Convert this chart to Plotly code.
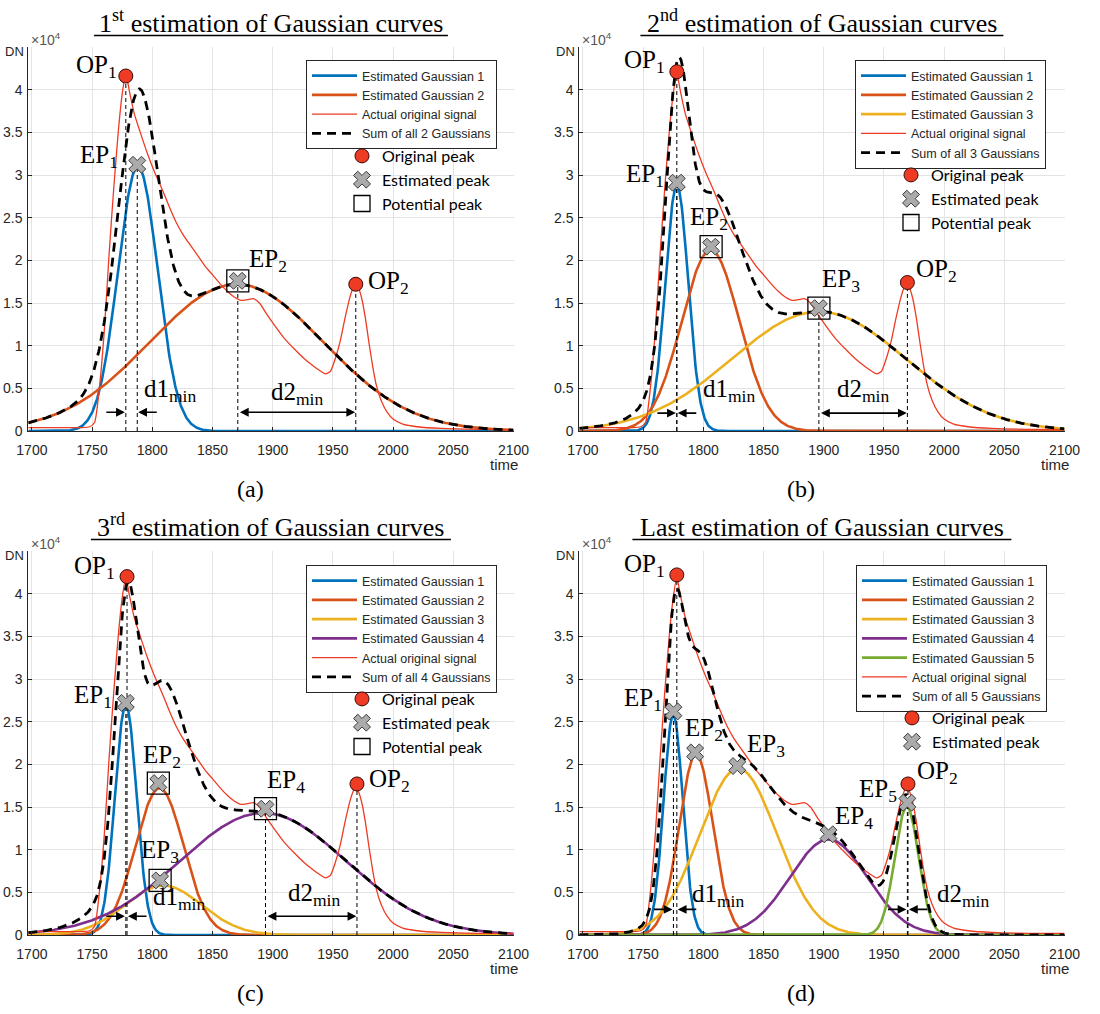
import numpy as np
import plotly.graph_objects as go

# ---------------- data (DN in units of 1e4, time in samples) ----------------
signal_time = [1697, 1720, 1740, 1748, 1752, 1756, 1760, 1764, 1768, 1772, 1775, 1778,
               1781, 1785, 1790, 1796, 1802, 1808, 1814, 1820, 1826, 1832, 1838, 1844,
               1850, 1856, 1862, 1868, 1874, 1879, 1884, 1889, 1895, 1902, 1910, 1918,
               1926, 1934, 1940, 1944, 1948, 1952, 1956, 1960, 1964, 1967, 1969, 1971,
               1974, 1977, 1980, 1983, 1986, 1990, 1995, 2000, 2008, 2020, 2040, 2070, 2100]
signal_dn = [0.04, 0.04, 0.04, 0.05, 0.10, 0.50, 1.15, 2.05, 2.85, 3.55, 3.95, 4.19,
             3.98, 3.72, 3.50, 3.25, 3.03, 2.84, 2.63, 2.44, 2.29, 2.17, 2.05, 1.93,
             1.83, 1.73, 1.64, 1.57, 1.53, 1.54, 1.55, 1.50, 1.37, 1.23, 1.08, 0.96,
             0.85, 0.76, 0.70, 0.67, 0.70, 0.85, 1.05, 1.32, 1.56, 1.69, 1.74, 1.69,
             1.55, 1.32, 1.03, 0.76, 0.54, 0.36, 0.22, 0.14, 0.08, 0.05, 0.03, 0.02, 0.02]

# Estimated Gaussian parameters per panel
a_amp = [3.10, 1.72]
a_mu = [1788, 1870]
a_sigma = [16.5, 72]
b_amp = [2.88, 2.12, 1.40]
b_mu = [1778, 1806, 1896]
b_sigma = [9.5, 24, 72]
c_amp = [2.70, 1.72, 0.58, 1.43]
c_mu = [1778, 1806, 1809, 1892]
c_sigma = [9.0, 20, 32, 69]
d_amp = [2.58, 2.12, 1.95, 1.12, 1.50]
d_mu = [1775, 1794, 1829, 1904, 1969]
d_sigma = [8, 14, 32, 32, 10]

# Original peaks (OP) and estimated peaks (EP)
a_op_x, a_op_y = [1778, 1969], [4.16, 1.72]
b_op_x, b_op_y = [1778, 1969.5], [4.21, 1.74]
c_op_x, c_op_y = [1779, 1970], [4.20, 1.77]
d_op_x, d_op_y = [1778, 1970], [4.22, 1.77]
a_ep_x, a_ep_y = [1787.5, 1871], [3.12, 1.76]
b_ep_x, b_ep_y = [1778, 1806.5, 1896], [2.91, 2.16, 1.44]
c_ep_x, c_ep_y = [1778, 1805, 1806.5, 1894], [2.72, 1.78, 0.64, 1.48]
d_ep_x, d_ep_y = [1775.2, 1793.2, 1828.2, 1904, 1969.5], [2.62, 2.14, 1.98, 1.18, 1.55]
# indices of EPs marked as potential peaks
a_pot = [1]
b_pot = [1, 2]
c_pot = [1, 2, 3]
d_pot = []
# EP index used for d2 distance
a_d2_ep, b_d2_ep, c_d2_ep, d_d2_ep = 1, 2, 3, 4
# distance-arrow heights
arrow_levels = [0.22, 0.21, 0.22, 0.30]

titles = ["1<sup>st</sup> estimation of Gaussian curves",
          "2<sup>nd</sup> estimation of Gaussian curves",
          "3<sup>rd</sup> estimation of Gaussian curves",
          "Last estimation of Gaussian curves"]
captions = ["(a)", "(b)", "(c)", "(d)"]
x_ticks = [1700, 1750, 1800, 1850, 1900, 1950, 2000, 2050, 2100]
y_ticks = [0, 0.5, 1, 1.5, 2, 2.5, 3, 3.5, 4]
y_ticklabels = ["0", "0.5", "1", "1.5", "2", "2.5", "3", "3.5", "4"]

# ---------------- styling / layout ----------------
W, H = 1100, 1014
COLORS = ["#0072BD", "#D95319", "#EDB120", "#7E2F8E", "#77AC30"]
RED = "#EE3B24"
SERIF = "Liberation Serif, Times New Roman, serif"
SANS = "Liberation Sans, Arial, sans-serif"
KEYFONT = "Lato, Carlito, sans-serif"
AX = "#262626"

def px(x):
    return x / W

def py(y):
    return 1 - y / H

panels = [
    dict(amp=a_amp, mu=a_mu, sig=a_sigma, opx=a_op_x, opy=a_op_y, epx=a_ep_x, epy=a_ep_y, pot=a_pot, d2=a_d2_ep),
    dict(amp=b_amp, mu=b_mu, sig=b_sigma, opx=b_op_x, opy=b_op_y, epx=b_ep_x, epy=b_ep_y, pot=b_pot, d2=b_d2_ep),
    dict(amp=c_amp, mu=c_mu, sig=c_sigma, opx=c_op_x, opy=c_op_y, epx=c_ep_x, epy=c_ep_y, pot=c_pot, d2=c_d2_ep),
    dict(amp=d_amp, mu=d_mu, sig=d_sigma, opx=d_op_x, opy=d_op_y, epx=d_ep_x, epy=d_ep_y, pot=d_pot, d2=d_d2_ep),
]

# pixel geometry of each panel
offs = [(0, 0), (551, 0), (0, 504), (551, 504)]
PL, PR, PT, PB = 28.3, 513.5, 47, 431

# label placement: (text, kind, index, xanchor, xshift, yshift)
point_labels = [
    [("OP<sub>1</sub>", "op", 0, "right", -7, 10), ("EP<sub>1</sub>", "ep", 0, "right", -17, 8),
     ("EP<sub>2</sub>", "ep", 1, "left", 9, 20), ("OP<sub>2</sub>", "op", 1, "left", 10, 2)],
    [("OP<sub>1</sub>", "op", 0, "right", -10, 10), ("EP<sub>1</sub>", "ep", 0, "right", -11, 7),
     ("EP<sub>2</sub>", "ep", 1, "center", -2, 28), ("EP<sub>3</sub>", "ep", 2, "left", 1, 28),
     ("OP<sub>2</sub>", "op", 1, "left", 7, 12)],
    [("OP<sub>1</sub>", "op", 0, "right", -10, 9), ("EP<sub>1</sub>", "ep", 0, "right", -12, 6),
     ("EP<sub>2</sub>", "ep", 1, "center", 4, 27), ("EP<sub>3</sub>", "ep", 2, "center", 0, 29),
     ("EP<sub>4</sub>", "ep", 3, "left", 0, 27), ("OP<sub>2</sub>", "op", 1, "left", 10, 3)],
    [("OP<sub>1</sub>", "op", 0, "right", -10, 9), ("EP<sub>1</sub>", "ep", 0, "right", -9, 12),
     ("EP<sub>2</sub>", "ep", 1, "center", 9, 23), ("EP<sub>3</sub>", "ep", 2, "left", 8, 21),
     ("EP<sub>4</sub>", "ep", 3, "left", 4, 17), ("EP<sub>5</sub>", "ep", 4, "right", -8, 12),
     ("OP<sub>2</sub>", "op", 1, "left", 7, 11)],
]
d1_label_pos = [(1815, 0.47), (1821, 0.47), (1822, 0.43), (1812, 0.46)]
d2_label_pos = [(1920, 0.44), (1933, 0.47), (1934, 0.47), (2016, 0.46)]
legend_pos = [(306, 60), (855, 60), (306, 565), (856, 565)]
title_widths = [354, 363, 360, 379]

t = np.arange(1697, 2100.01, 0.5)

def gauss(a, m, s):
    return a * np.exp(-((t - m) ** 2) / (2 * s ** 2))

fig = go.Figure()
annotations = []
shapes = []
layout = dict(width=W, height=H, margin=dict(l=0, r=0, t=0, b=0, pad=0, autoexpand=False),
              paper_bgcolor="white", plot_bgcolor="white", hovermode=False)

for i, p in enumerate(panels):
    n = i + 1
    sfx = "" if n == 1 else str(n)
    xa, ya = "x" + sfx, "y" + sfx
    ox, oy = offs[i]
    leg_main = "legend" if n == 1 else "legend%d" % (2 * n - 1)
    leg_key = "legend%d" % (2 * n)
    k = len(p["amp"])
    curves = [gauss(p["amp"][j], p["mu"][j], p["sig"][j]) for j in range(k)]
    for j in range(k):
        fig.add_trace(go.Scatter(x=t, y=curves[j], mode="lines", name="Estimated Gaussian %d" % (j + 1),
                                 line=dict(color=COLORS[j], width=2.6), xaxis=xa, yaxis=ya,
                                 legend=leg_main))
    fig.add_trace(go.Scatter(x=signal_time, y=signal_dn, mode="lines", name="Actual original signal",
                             line=dict(color=RED, width=1.3, shape="spline", smoothing=0.6),
                             xaxis=xa, yaxis=ya, legend=leg_main))
    fig.add_trace(go.Scatter(x=t, y=np.sum(curves, axis=0), mode="lines",
                             name="Sum of all %d Gaussians" % k,
                             line=dict(color="black", width=2.8, dash="9px,6px"),
                             xaxis=xa, yaxis=ya, legend=leg_main))
    # vertical dashed guide lines
    d2i = p["d2"]
    vx = [p["opx"][0], p["epx"][0], p["epx"][d2i], p["opx"][1]]
    vy = [p["opy"][0], p["epy"][0], p["epy"][d2i], p["opy"][1]]
    lx, ly = [], []
    for xx, yy in zip(vx, vy):
        lx += [xx, xx, None]
        ly += [0, yy, None]
    fig.add_trace(go.Scatter(x=lx, y=ly, mode="lines", showlegend=False,
                             line=dict(color="black", width=1, dash="4px,3px"), xaxis=xa, yaxis=ya))
    # markers
    fig.add_trace(go.Scatter(x=p["opx"], y=p["opy"], mode="markers", name="Original peak",
                             marker=dict(symbol="circle", size=14, color=RED,
                                         line=dict(color="#3a0a05", width=1)),
                             xaxis=xa, yaxis=ya, legend=leg_key))
    fig.add_trace(go.Scatter(x=p["epx"], y=p["epy"], mode="markers", name="Estimated peak",
                             marker=dict(symbol="x", size=15, color="#ABABAB",
                                         line=dict(color="#3C3C3C", width=1)),
                             xaxis=xa, yaxis=ya, legend=leg_key))
    if p["pot"]:
        fig.add_trace(go.Scatter(x=[p["epx"][q] for q in p["pot"]], y=[p["epy"][q] for q in p["pot"]],
                                 mode="markers", name="Potential peak",
                                 marker=dict(symbol="square-open", size=22, color="black",
                                             line=dict(width=1.3)),
                                 xaxis=xa, yaxis=ya, legend=leg_key))

    # axes
    xdom = [px(PL + ox), px(PR + ox)]
    ydom = [py(PB + oy), py(PT + oy)]
    layout["xaxis" + sfx] = dict(domain=xdom, range=[1697, 2100], anchor=ya, tickvals=x_ticks,
                                 showgrid=True, gridcolor="#E3E3E3", gridwidth=1, zeroline=False,
                                 showline=True, linecolor=AX, linewidth=1, ticks="inside", ticklen=4,
                                 tickcolor=AX, tickfont=dict(family=SANS, size=14, color=AX),
                                 ticklabelstandoff=6, fixedrange=True, automargin=False)
    layout["yaxis" + sfx] = dict(domain=ydom, range=[0, 4.5], anchor=xa, tickvals=y_ticks,
                                 ticktext=y_ticklabels, showgrid=True, gridcolor="#E3E3E3", gridwidth=1,
                                 zeroline=False, showline=True, linecolor=AX, linewidth=1, ticks="inside",
                                 ticklen=4, tickcolor=AX, tickfont=dict(family=SANS, size=14, color=AX),
                                 ticklabelstandoff=2, fixedrange=True, automargin=False)
    # legends
    lx0, ly0 = legend_pos[i]
    layout[leg_main] = dict(x=px(lx0), y=py(ly0), xanchor="left", yanchor="top",
                            bgcolor="white", bordercolor=AX, borderwidth=1,
                            font=dict(family=SANS, size=12.5, color=AX), itemwidth=45,
                            tracegroupgap=0)
    nrows = k + 2
    key_top = ly0 + nrows * 19 + 3
    layout[leg_key] = dict(x=px(lx0 + 36), y=py(key_top), xanchor="left", yanchor="top",
                           bgcolor="rgba(0,0,0,0)", borderwidth=0,
                           font=dict(family=KEYFONT, size=16, color="black"), itemwidth=30,
                           tracegroupgap=0)

    # title + underline
    cx = (PL + PR) / 2 + ox
    annotations.append(dict(text=titles[i], x=px(cx), y=py(40 + oy), xref="paper", yref="paper",
                            xanchor="center", yanchor="bottom", showarrow=False,
                            font=dict(family=SERIF, size=26, color="black")))
    tw = title_widths[i]
    shapes.append(dict(type="line", xref="paper", yref="paper", x0=px(cx - tw / 2), x1=px(cx + tw / 2),
                       y0=py(35.5 + oy), y1=py(35.5 + oy), line=dict(color="black", width=1.5)))
    # axis decorations
    annotations.append(dict(text="\u00d710<sup>4</sup>", x=px(29 + ox), y=py(39 + oy), xref="paper",
                            yref="paper", xanchor="left", yanchor="middle", showarrow=False,
                            font=dict(family=SANS, size=14, color="#555555")))
    annotations.append(dict(text="DN", x=px(14 + ox), y=py(51 + oy), xref="paper", yref="paper",
                            xanchor="center", yanchor="middle", showarrow=False,
                            font=dict(family=SANS, size=13, color=AX)))
    annotations.append(dict(text="time", x=px(504 + ox), y=py(464 + oy), xref="paper", yref="paper",
                            xanchor="center", yanchor="middle", showarrow=False,
                            font=dict(family=SANS, size=15, color=AX)))
    annotations.append(dict(text=captions[i], x=px(250 + ox), y=py(489 + oy), xref="paper", yref="paper",
                            xanchor="center", yanchor="middle", showarrow=False,
                            font=dict(family=SERIF, size=24, color="black")))
    # point labels
    for (txt, kind, idx, xanc, xs, ys) in point_labels[i]:
        X = p["opx"][idx] if kind == "op" else p["epx"][idx]
        Y = p["opy"][idx] if kind == "op" else p["epy"][idx]
        annotations.append(dict(text=txt, x=X, y=Y, xref=xa, yref=ya, xanchor=xanc, yanchor="middle",
                                xshift=xs, yshift=ys, showarrow=False,
                                font=dict(family=SERIF, size=25, color="black")))
    # distance arrows
    ay_ = arrow_levels[i]
    x1a, x1b = sorted([p["opx"][0], p["epx"][0]])
    arrow = dict(xref=xa, yref=ya, text="", showarrow=True, arrowhead=2, arrowsize=1.1,
                 arrowwidth=1.6, arrowcolor="black", standoff=0, startstandoff=0)
    annotations.append(dict(arrow, x=x1a - 0.8, y=ay_, ax=-20, ay=0))
    annotations.append(dict(arrow, x=x1b + 0.8, y=ay_, ax=20, ay=0))
    x2a, x2b = sorted([p["epx"][d2i], p["opx"][1]])
    if i < 3:
        annotations.append(dict(arrow, x=x2b - 0.5, y=ay_, ax=x2a + 0.5, ay=ay_, axref=xa, ayref=ya,
                                arrowside="end+start"))
    else:
        annotations.append(dict(arrow, x=x2a - 0.8, y=ay_, ax=-20, ay=0))
        annotations.append(dict(arrow, x=x2b + 0.8, y=ay_, ax=20, ay=0))
    for (lbl, pos) in (("d1<sub>min</sub>", d1_label_pos[i]), ("d2<sub>min</sub>", d2_label_pos[i])):
        annotations.append(dict(text=lbl, x=pos[0], y=pos[1], xref=xa, yref=ya, xanchor="center",
                                yanchor="middle", showarrow=False,
                                font=dict(family=SERIF, size=25, color="black")))

layout["annotations"] = annotations
layout["shapes"] = shapes
fig.update_layout(**layout)
fig.write_html("out.html", config={"displayModeBar": False, "staticPlot": True},
               post_script="document.body.style.margin='0px';")
